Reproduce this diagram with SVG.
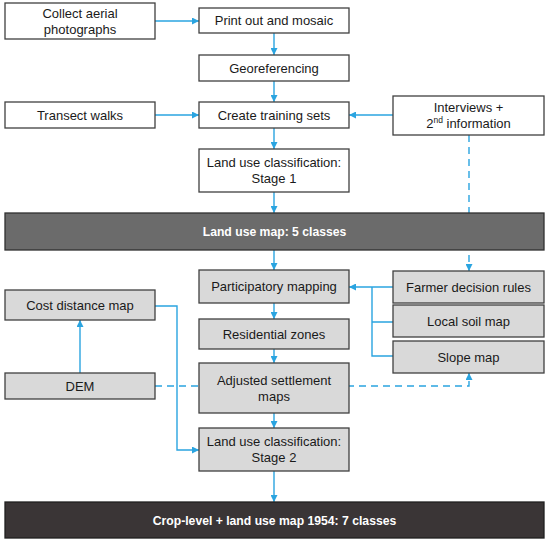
<svg xmlns="http://www.w3.org/2000/svg" width="550" height="547" viewBox="0 0 550 547">
<style>
.b{fill:#ffffff;stroke:#404040;stroke-width:1.3}
.g{fill:#d9d9d9;stroke:#404040;stroke-width:1.3}
.d1{fill:#6b6b6b;stroke:#303030;stroke-width:1.3}
.d2{fill:#3a3536;stroke:#202020;stroke-width:1.3}
text{font-family:"Liberation Sans",Arial,sans-serif;font-size:13px;fill:#1a1a1a;text-anchor:middle}
.w{fill:#ffffff;font-weight:bold;font-size:12.2px}
.c{fill:none;stroke:#2aa4e0;stroke-width:1.4}
.dash{stroke-dasharray:7,5}
</style>
<defs>
<marker id="ah" viewBox="0 0 10 10" refX="10" refY="5" markerWidth="7" markerHeight="7" markerUnits="userSpaceOnUse" orient="auto">
<path d="M0,0 L10,5 L0,10 z" fill="#2aa4e0"/>
</marker>
</defs>
<g id="connectors">
<path class="c" d="M155,21 H199" marker-end="url(#ah)"/>
<path class="c" d="M274,33 V55" marker-end="url(#ah)"/>
<path class="c" d="M274,81 V102" marker-end="url(#ah)"/>
<path class="c" d="M274,128 V149" marker-end="url(#ah)"/>
<path class="c" d="M155,115 H199" marker-end="url(#ah)"/>
<path class="c" d="M393,115 H349" marker-end="url(#ah)"/>
<path class="c" d="M274,192 V213" marker-end="url(#ah)"/>
<path class="c" d="M274,250 V270" marker-end="url(#ah)"/>
<path class="c dash" d="M469,135 V271" marker-end="url(#ah)"/>
<path class="c" d="M393,287 H349" marker-end="url(#ah)"/>
<path class="c" d="M372,287 V356 H393 M372,322 H393"/>
<path class="c" d="M274,303 V319" marker-end="url(#ah)"/>
<path class="c" d="M274,349 V363" marker-end="url(#ah)"/>
<path class="c" d="M274,413 V428" marker-end="url(#ah)"/>
<path class="c" d="M274,471 V502" marker-end="url(#ah)"/>
<path class="c" d="M80,373 V320" marker-end="url(#ah)"/>
<path class="c" d="M155,306 H177 V450 H199" marker-end="url(#ah)"/>
<path class="c dash" d="M155,386 H469 V373" marker-end="url(#ah)"/>
</g>
<g id="collect"><rect class="b" x="5" y="3" width="150" height="36"/><text x="80" y="17.5">Collect aerial</text><text x="80" y="33.5">photographs</text></g>
<g id="print"><rect class="b" x="199" y="8" width="150" height="25"/><text x="274" y="25">Print out and mosaic</text></g>
<g id="georef"><rect class="b" x="199" y="55" width="150" height="26"/><text x="274" y="72.5">Georeferencing</text></g>
<g id="transect"><rect class="b" x="5" y="102" width="150" height="26"/><text x="80" y="119.5">Transect walks</text></g>
<g id="training"><rect class="b" x="199" y="102" width="150" height="26"/><text x="274" y="119.5">Create training sets</text></g>
<g id="interviews"><rect class="b" x="393" y="96" width="151" height="39"/><text x="468.5" y="111.5">Interviews +</text><text x="468.5" y="127.5">2<tspan font-size="8.5" dy="-5">nd</tspan><tspan dy="5"> information</tspan></text></g>
<g id="stage1"><rect class="b" x="199" y="149" width="150" height="43"/><text x="274" y="166.5">Land use classification:</text><text x="274" y="183">Stage 1</text></g>
<g id="map5"><rect class="d1" x="5" y="213" width="539" height="37"/><text class="w" x="274.5" y="236">Land use map: 5 classes</text></g>
<g id="participatory"><rect class="g" x="199" y="270" width="150" height="33"/><text x="274" y="291">Participatory mapping</text></g>
<g id="farmer"><rect class="g" x="393" y="271" width="151" height="32"/><text x="468.5" y="291.5">Farmer decision rules</text></g>
<g id="soil"><rect class="g" x="393" y="305" width="151" height="32"/><text x="468.5" y="325.5">Local soil map</text></g>
<g id="slope"><rect class="g" x="393" y="341" width="151" height="32"/><text x="468.5" y="361.5">Slope map</text></g>
<g id="cost"><rect class="g" x="5" y="290" width="150" height="30"/><text x="80" y="309.5">Cost distance map</text></g>
<g id="residential"><rect class="g" x="199" y="319" width="150" height="30"/><text x="274" y="338.5">Residential zones</text></g>
<g id="adjusted"><rect class="g" x="199" y="363" width="150" height="50"/><text x="274" y="384.5">Adjusted settlement</text><text x="274" y="401">maps</text></g>
<g id="dem"><rect class="g" x="5" y="373" width="150" height="26"/><text x="80" y="390.5">DEM</text></g>
<g id="stage2"><rect class="g" x="199" y="428" width="150" height="43"/><text x="274" y="445.5">Land use classification:</text><text x="274" y="462">Stage 2</text></g>
<g id="map7"><rect class="d2" x="5" y="502" width="539" height="36"/><text class="w" x="274.5" y="524.5">Crop-level + land use map 1954: 7 classes</text></g>
</svg>
